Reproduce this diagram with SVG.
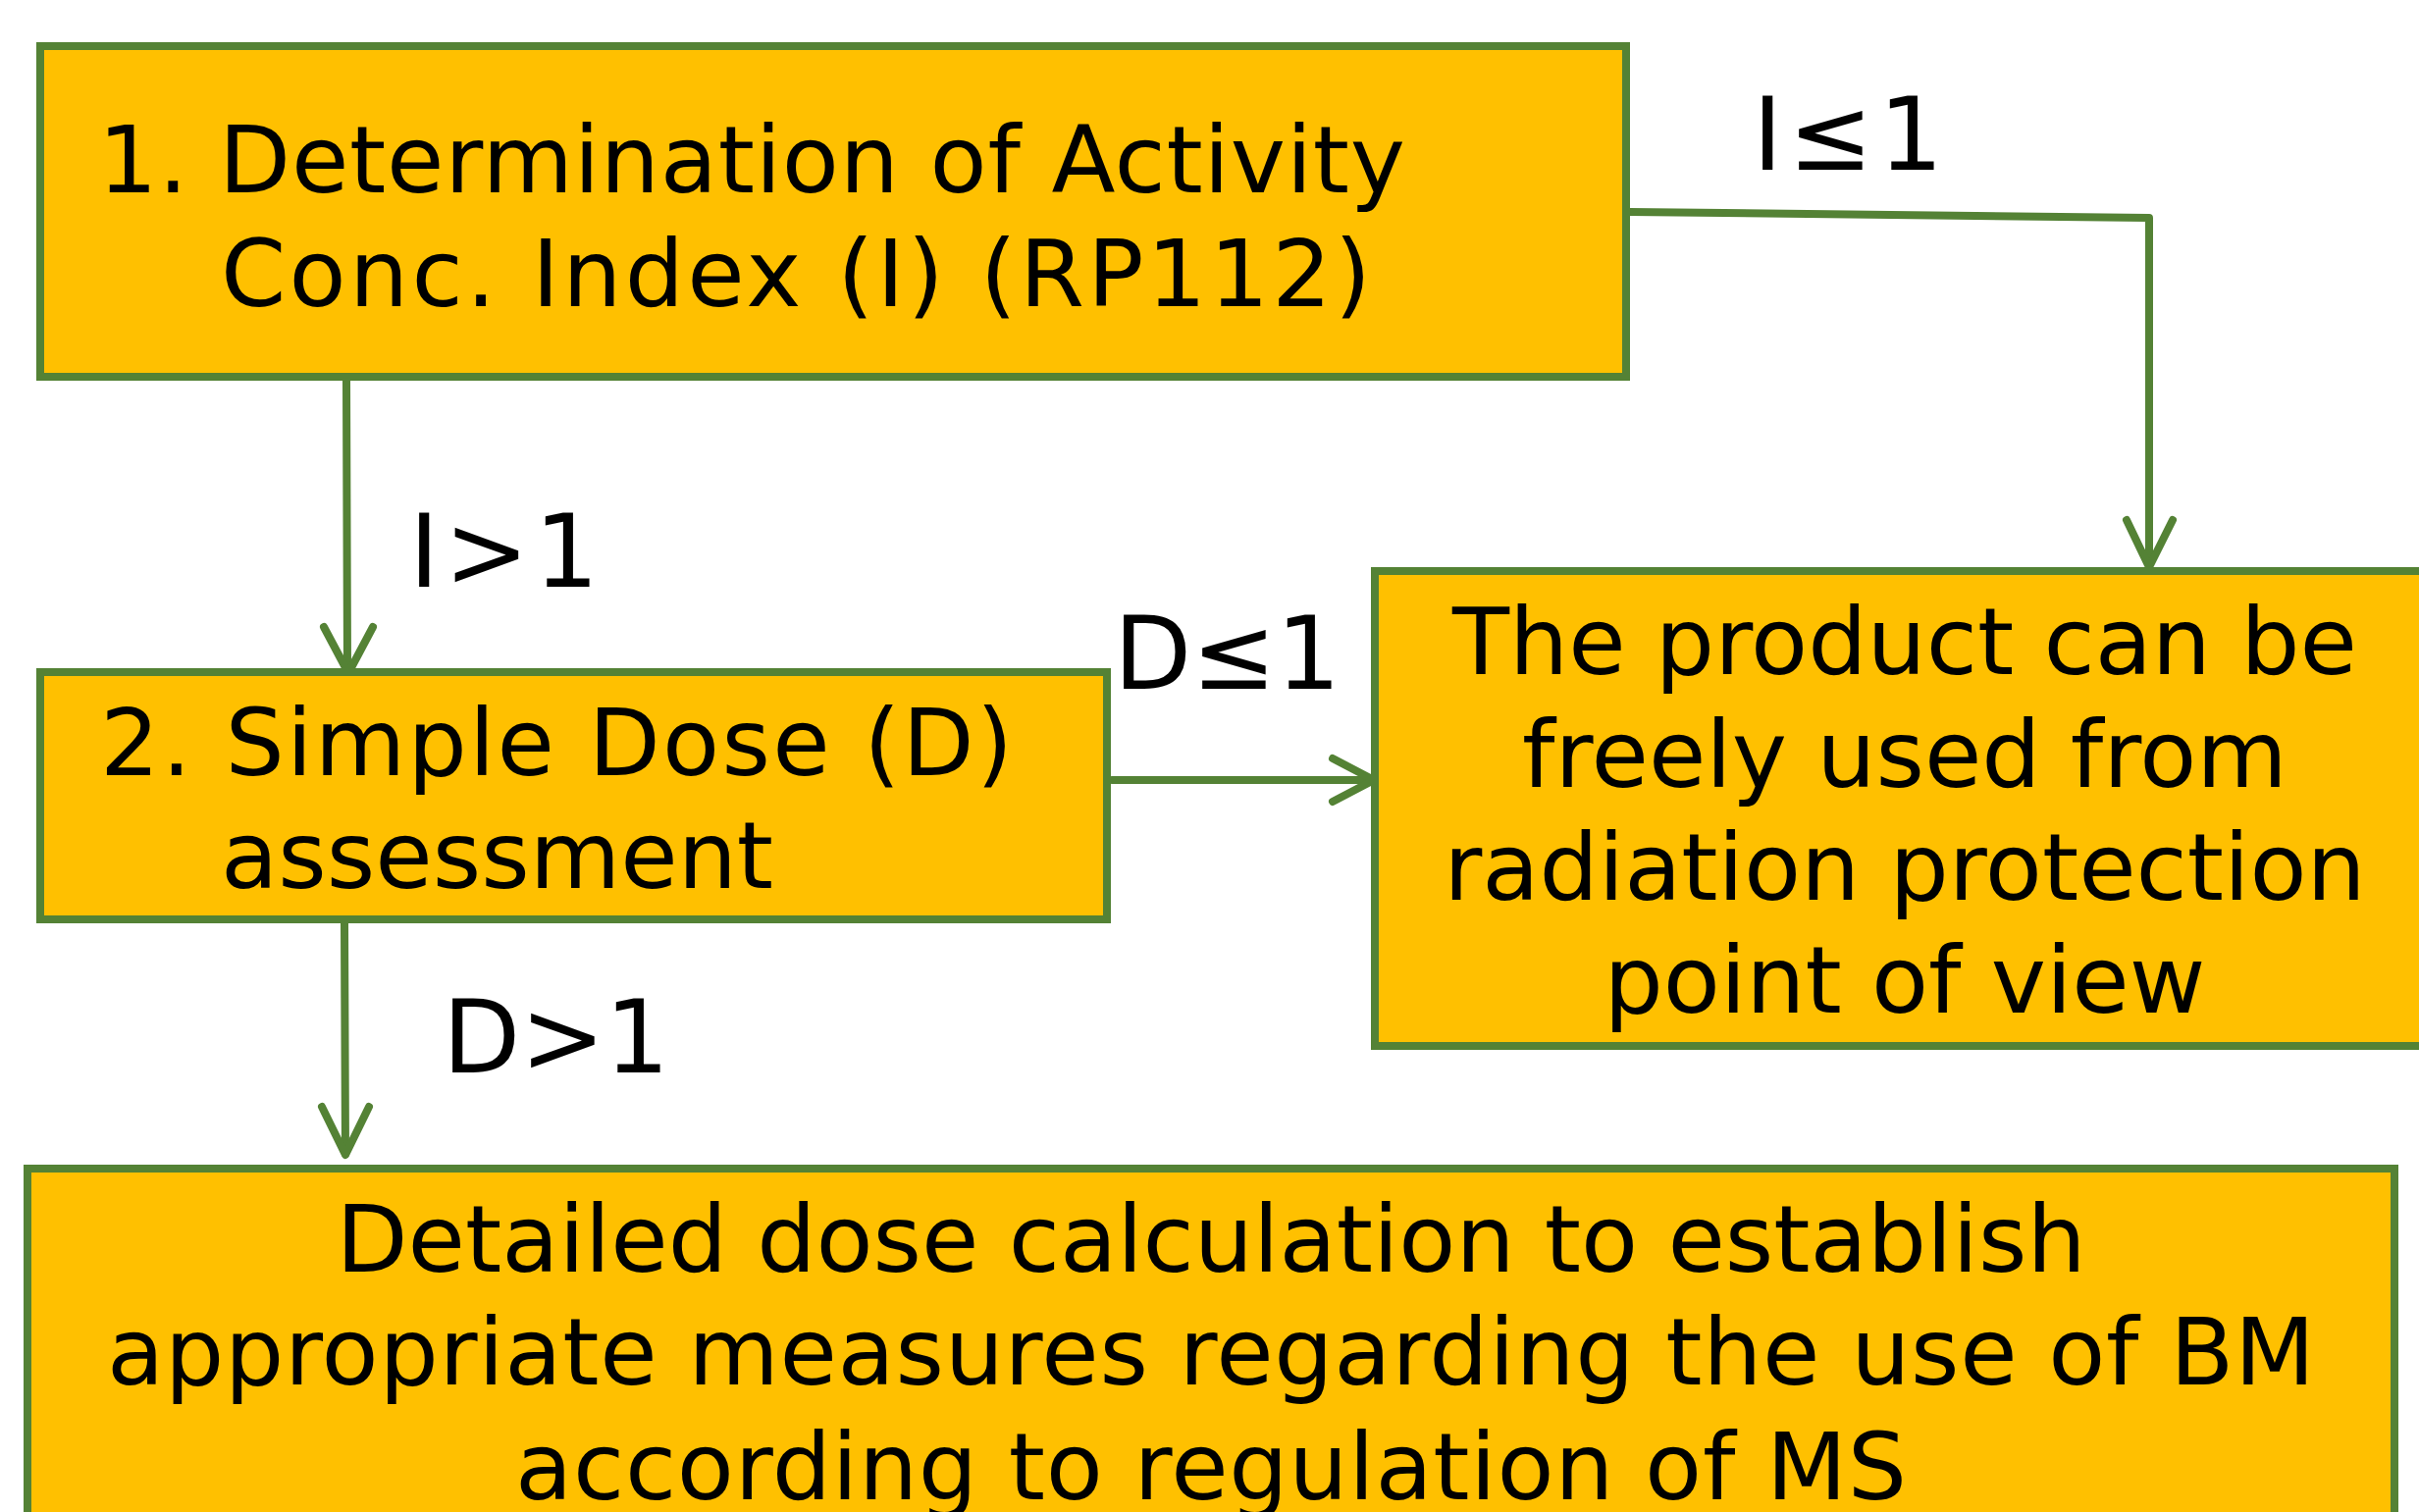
<svg xmlns="http://www.w3.org/2000/svg" width="2465" height="1541" viewBox="0 0 2465 1541">
<style>
.box{fill:#FFC000;stroke:#548235;stroke-width:8}
.t{font-family:"DejaVu Sans","Verdana",sans-serif;font-size:95px;fill:#000}
.c{text-anchor:middle}
.lbl{font-family:"DejaVu Sans","Verdana",sans-serif;font-size:103px;fill:#000}
.conn{fill:none;stroke:#548235;stroke-width:8;stroke-linecap:round;stroke-linejoin:round}
</style>
<rect width="2465" height="1541" fill="#fff"/>
<g id="connectors">
<path class="conn" d="M353 388 L354 684"/>
<polyline class="conn" points="330,639 355,686 380,639"/>
<polyline class="conn" points="1661,216 2190,222 2190,578"/>
<polyline class="conn" points="2167,530 2190,578 2214,530"/>
<path class="conn" d="M1133 795 L1399 795"/>
<polyline class="conn" points="1358,773 1400,795 1358,817"/>
<path class="conn" d="M351 941 L352 1176"/>
<polyline class="conn" points="328,1128 352,1177 376,1128"/>
</g>
<g id="node1">
<rect class="box" x="41" y="47" width="1616" height="337"/>
<text class="t" x="100" y="196" textLength="1332" lengthAdjust="spacing">1. Determination of Activity</text>
<text class="t" x="225" y="312" textLength="1172" lengthAdjust="spacing">Conc. Index (I) (RP112)</text>
</g>
<g id="node2">
<rect class="box" x="41" y="685" width="1087" height="252"/>
<text class="t" x="102" y="790" textLength="930" lengthAdjust="spacing">2. Simple Dose (D)</text>
<text class="t" x="225" y="905">assessment</text>
</g>
<g id="node3">
<rect class="box" x="1401" y="582" width="1090" height="484"/>
<text class="t c" x="1941" y="687">The product can be</text>
<text class="t c" x="1941" y="802">freely used from</text>
<text class="t c" x="1941" y="917">radiation protection</text>
<text class="t c" x="1941" y="1032">point of view</text>
</g>
<g id="node4">
<rect class="box" x="28" y="1191" width="2412" height="420"/>
<text class="t c" x="1234" y="1296">Detailed dose calculation to establish</text>
<text class="t c" x="1234" y="1411" textLength="2250" lengthAdjust="spacing">appropriate measures regarding the use of BM</text>
<text class="t c" x="1234" y="1528" textLength="1418" lengthAdjust="spacing">according to regulation of MS</text>
</g>
<g id="labels">
<text class="lbl" x="417" y="598" textLength="193" lengthAdjust="spacing">I&gt;1</text>
<text class="lbl" x="1786" y="173" textLength="194" lengthAdjust="spacing">I≤1</text>
<text class="lbl" x="1135" y="702">D≤1</text>
<text class="lbl" x="451" y="1093">D&gt;1</text>
</g>
</svg>
